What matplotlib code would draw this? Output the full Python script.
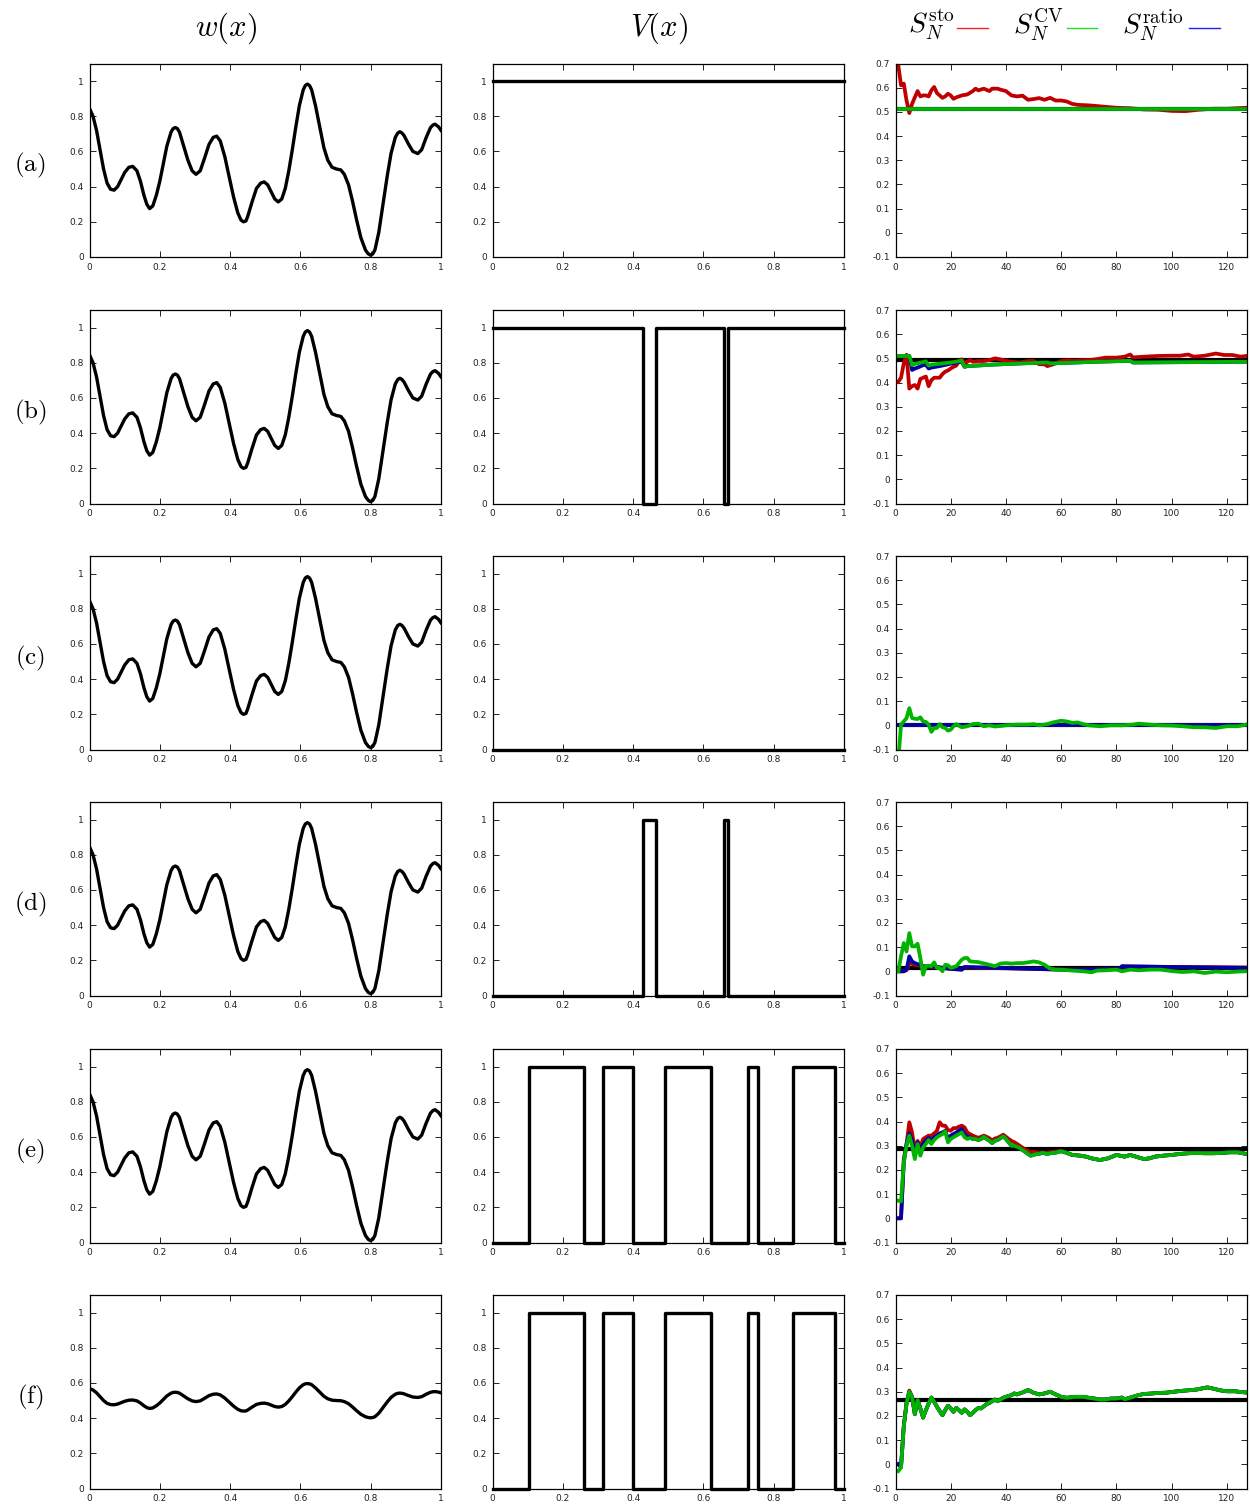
import numpy as np, matplotlib
matplotlib.use('Agg')
import matplotlib.pyplot as plt
from matplotlib.lines import Line2D
from matplotlib.ticker import FuncFormatter

RED = '#c00000'; GREEN = '#00b400'; BLUE = '#0000a8'; BLACK = 'black'
plt.rcParams.update({'mathtext.fontset': 'cm', 'font.family': 'DejaVu Sans', 'font.size': 6.5})

# ---- w(x) ----
x_w = [0.000, 0.010, 0.020, 0.030, 0.040, 0.050, 0.060, 0.070, 0.080, 0.090, 0.100, 0.112, 0.123,
       0.135, 0.145, 0.155, 0.163, 0.171, 0.180, 0.190, 0.200, 0.210, 0.220, 0.232, 0.238, 0.244, 0.250,
       0.256, 0.268, 0.280, 0.292, 0.303, 0.315, 0.327, 0.340, 0.352, 0.362, 0.372, 0.385, 0.398, 0.410,
       0.422, 0.431, 0.438, 0.445, 0.450, 0.462, 0.475, 0.487, 0.497, 0.507, 0.517, 0.527, 0.537, 0.547,
       0.557, 0.567, 0.577, 0.587, 0.597, 0.608, 0.614, 0.620, 0.626, 0.632, 0.643, 0.655, 0.667, 0.678,
       0.690, 0.703, 0.715, 0.725, 0.737, 0.748, 0.760, 0.772, 0.785, 0.793, 0.800, 0.806, 0.812, 0.823,
       0.835, 0.847, 0.858, 0.870, 0.877, 0.883, 0.889, 0.895, 0.908, 0.920, 0.934, 0.945, 0.958, 0.970,
       0.977, 0.983, 0.993, 1.000]
w_vals = [0.845, 0.80, 0.72, 0.61, 0.50, 0.42, 0.385, 0.38, 0.40, 0.44, 0.48, 0.51, 0.515,
          0.49, 0.43, 0.35, 0.30, 0.275, 0.29, 0.35, 0.43, 0.53, 0.63, 0.71, 0.73, 0.736, 0.73,
          0.71, 0.63, 0.55, 0.49, 0.47, 0.49, 0.56, 0.64, 0.68, 0.687, 0.66, 0.57, 0.45, 0.34,
          0.25, 0.21, 0.20, 0.205, 0.23, 0.31, 0.39, 0.42, 0.427, 0.41, 0.37, 0.33, 0.313, 0.33,
          0.39, 0.49, 0.61, 0.74, 0.86, 0.95, 0.975, 0.983, 0.975, 0.95, 0.86, 0.74, 0.62, 0.55,
          0.51, 0.50, 0.495, 0.47, 0.41, 0.32, 0.21, 0.11, 0.04, 0.018, 0.01, 0.018, 0.04, 0.14,
          0.30, 0.46, 0.59, 0.68, 0.705, 0.712, 0.705, 0.69, 0.64, 0.60, 0.588, 0.61, 0.68, 0.735,
          0.75, 0.755, 0.74, 0.72]
# row (f) uses the same profile squeezed towards 0.5
w_flat = 0.5 + 0.2 * (np.array(w_vals) - 0.5)

# ---- V(x): step edges and levels ----
V_edges = {
    'a': [0, 1], 'c': [0, 1],
    'b': [0, 0.428, 0.465, 0.658, 0.670, 1],
    'd': [0, 0.428, 0.465, 0.658, 0.670, 1],
    'e': [0, 0.105, 0.26, 0.315, 0.40, 0.49, 0.623, 0.727, 0.754, 0.855, 0.973, 1],
}
V_edges['f'] = V_edges['e']
V_levels = {
    'a': [1], 'c': [0],
    'b': [1, 0, 1, 0, 1], 'd': [0, 1, 0, 1, 0],
    'e': [0, 1, 0, 1, 0, 1, 0, 1, 0, 1, 0],
    'f': [0, 1, 0, 1, 0, 1, 0, 1, 0, 1, 0],
}

# ---- estimators vs N ----
exact = {'a': 0.51, 'b': 0.493, 'c': 0.0, 'd': 0.015, 'e': 0.286, 'f': 0.264}

Na_sto = [1, 2, 3, 4, 5, 6, 7, 8, 9, 10, 11, 12, 13, 14, 15, 16, 17, 18, 19, 20, 21, 22, 24, 26, 28, 29, 30, 32,
          34, 35, 37, 38, 40, 42, 44, 46, 48, 50, 52, 54, 56, 58, 60, 62, 64, 66, 70, 75, 80, 85, 90, 95, 100,
          105, 110, 115, 120, 127]
Sa_sto = [0.693, 0.61, 0.617, 0.547, 0.495, 0.533, 0.56, 0.586, 0.564, 0.568, 0.568, 0.564, 0.589, 0.603, 0.578,
          0.568, 0.558, 0.564, 0.575, 0.568, 0.554, 0.56, 0.568, 0.572, 0.586, 0.596, 0.589, 0.596, 0.586, 0.596,
          0.596, 0.592, 0.586, 0.568, 0.564, 0.567, 0.55, 0.553, 0.557, 0.55, 0.558, 0.547, 0.547, 0.543, 0.533,
          0.529, 0.527, 0.522, 0.517, 0.515, 0.51, 0.509, 0.504, 0.503, 0.509, 0.513, 0.513, 0.517]
Na_cv = [1, 127]; Sa_cv = [0.51, 0.51]
Na_ratio = [1, 127]; Sa_ratio = [0.51, 0.51]

Nb_sto = [1, 2, 3, 4, 5, 6, 7, 8, 9, 10, 11, 12, 13, 14, 15, 16, 17, 18, 19, 20, 21, 22, 23, 24, 25, 26, 27, 28,
          30, 32, 34, 36, 38, 40, 42, 45, 48, 50, 52, 54, 55, 57, 60, 62, 65, 68, 70, 73, 76, 80, 83, 85, 86, 90,
          95, 100, 103, 106, 108, 112, 116, 119, 122, 125, 127]
Sb_sto = [0.403, 0.42, 0.48, 0.515, 0.375, 0.385, 0.39, 0.375, 0.415, 0.42, 0.425, 0.385, 0.41, 0.42, 0.42, 0.42,
          0.435, 0.445, 0.45, 0.458, 0.465, 0.47, 0.49, 0.496, 0.476, 0.486, 0.493, 0.486,
          0.489, 0.489, 0.493, 0.5, 0.496, 0.489, 0.486, 0.483, 0.489, 0.49, 0.476, 0.475, 0.468, 0.475, 0.489,
          0.492, 0.49, 0.493, 0.493, 0.497, 0.503, 0.503, 0.507, 0.516, 0.504, 0.507, 0.51, 0.511, 0.511, 0.516,
          0.507, 0.511, 0.52, 0.514, 0.514, 0.507, 0.51]
Nb_cv = [1, 5, 6, 7, 8, 10, 11, 12, 13, 16, 20, 24, 25, 26, 35, 45, 55, 56, 70, 85, 86, 127]
Sb_cv = [0.51, 0.51, 0.472, 0.477, 0.48, 0.485, 0.488, 0.47, 0.474, 0.478, 0.483, 0.49, 0.465, 0.468, 0.474,
         0.479, 0.483, 0.479, 0.485, 0.49, 0.483, 0.486]
Nb_ratio = [1, 5, 6, 7, 8, 10, 11, 12, 13, 16, 20, 24, 25, 26, 35, 45, 55, 56, 70, 85, 86, 127]
Sb_ratio = [0.51, 0.51, 0.452, 0.458, 0.462, 0.472, 0.474, 0.458, 0.462, 0.468, 0.478, 0.486, 0.465, 0.468,
            0.474, 0.479, 0.483, 0.479, 0.485, 0.49, 0.483, 0.486]

Nc_sto = [1, 127]; Sc_sto = [0.0, 0.0]
Nc_ratio = [1, 127]; Sc_ratio = [0.0, 0.0]
Nc_cv = [1, 2, 3, 4, 5, 6, 7, 8, 9, 10, 11, 12, 13, 14, 15, 16, 17, 18, 19, 20, 21, 22, 24, 26, 28, 30, 32, 34,
         36, 38, 40, 44, 48, 50, 52, 55, 57, 60, 62, 64, 66, 68, 70, 74, 78, 82, 86, 88, 92, 96, 100, 104, 108,
         112, 116, 120, 124, 127]
Sc_cv = [-0.15, 0.003, 0.016, 0.03, 0.071, 0.03, 0.027, 0.026, 0.033, 0.016, 0.014, 0.003, -0.027, -0.011,
         -0.011, 0.005, -0.008, -0.011, -0.022, -0.018, -0.004, 0.005,
         -0.008, -0.004, 0.005, 0.007, -0.004, 0.0, -0.005, -0.003, 0.0,
         0.003, 0.003, 0.005, 0.0, 0.005, 0.012, 0.019, 0.016, 0.01, 0.012, 0.005, 0.0,
         -0.004, 0.0, 0.0, 0.003, 0.007, 0.003, 0.0, -0.001, -0.004, -0.008, -0.008, -0.011, -0.004, -0.004, 0.003]

Nd_sto = [1, 2, 3, 4, 5, 6, 7, 8, 10, 15, 20, 24, 25, 50, 60, 70, 81, 82, 100, 127]
Sd_sto = [0.0, 0.0, 0.0, 0.005, 0.035, 0.03, 0.027, 0.025, 0.02, 0.016, 0.01, 0.007, 0.016, 0.01, 0.007, 0.007,
          0.01, 0.02, 0.018, 0.016]
Nd_ratio = [1, 2, 3, 4, 5, 6, 7, 8, 9, 10, 15, 20, 24, 25, 50, 60, 70, 81, 82, 100, 127]
Sd_ratio = [0.0, 0.0, 0.0, 0.007, 0.062, 0.041, 0.034, 0.03, 0.027, 0.021, 0.018, 0.01, 0.007, 0.018, 0.01,
            0.007, 0.007, 0.01, 0.021, 0.018, 0.014]
Nd_cv = [1, 2, 3, 4, 5, 6, 7, 8, 9, 10, 11, 12, 13, 14, 15, 16, 17, 18, 19, 20,
         22, 24, 25, 26, 27, 30, 33, 36, 38, 40, 42, 44, 46, 48, 50, 52, 54, 56, 58, 60, 64, 68, 71, 73, 76, 80,
         82, 85, 88, 92, 96, 100, 104, 108, 112, 116, 120, 124, 127]
Sd_cv = [0.0, 0.062, 0.117, 0.082, 0.158, 0.103, 0.103, 0.114, 0.055, -0.014, 0.023, 0.023, 0.021, 0.037, 0.014,
         0.014, 0.0, 0.027, 0.025, 0.014,
         0.021, 0.048, 0.055, 0.055, 0.041, 0.038, 0.03, 0.021, 0.032, 0.034, 0.032, 0.034, 0.034, 0.037, 0.041,
         0.037, 0.027, 0.011, 0.007, 0.007, 0.003, 0.0, -0.004, 0.003, 0.004, 0.007, 0.0, 0.007, 0.004, 0.007,
         0.007, 0.001, -0.003, 0.0, -0.007, -0.001, -0.004, -0.001, 0.0]

# row (e): the three estimators separate early, then share one tail
Ne_tail = [62, 64, 67, 69, 71, 74, 77, 80, 83, 85, 87, 90, 92, 94, 97, 100, 103, 106, 109, 112, 115, 118, 121,
           124, 127]
Se_tail = [0.271, 0.262, 0.259, 0.255, 0.248, 0.241, 0.248, 0.262, 0.255, 0.262, 0.255, 0.245, 0.248, 0.255,
           0.259, 0.262, 0.266, 0.269, 0.27, 0.269, 0.269, 0.27, 0.273, 0.273, 0.266]
Ne_cv_head = list(range(1, 61))
Se_cv_head = [0.073, 0.070, 0.231, 0.300, 0.342, 0.300, 0.245, 0.307, 0.259, 0.293, 0.307, 0.324, 0.307, 0.324,
              0.335, 0.342, 0.348, 0.360, 0.314, 0.328, 0.335, 0.342, 0.348, 0.355, 0.335, 0.328, 0.332, 0.328,
              0.328, 0.324, 0.328, 0.337, 0.328, 0.321, 0.311, 0.321, 0.324, 0.331, 0.339, 0.328, 0.314, 0.300,
              0.300, 0.296, 0.291, 0.282, 0.275, 0.266, 0.259, 0.262, 0.266, 0.266, 0.271, 0.269, 0.266, 0.269,
              0.271, 0.271, 0.275, 0.277]
Ne_sto_head = list(range(1, 51)) + [52, 55, 58, 60]
Se_sto_head = [0.0, 0.0, 0.245, 0.307, 0.397, 0.355, 0.28, 0.32, 0.293, 0.328, 0.335, 0.342, 0.342, 0.351, 0.362,
               0.397, 0.383, 0.383, 0.365, 0.362, 0.373, 0.373, 0.379, 0.383, 0.376, 0.355, 0.348, 0.342, 0.337,
               0.333, 0.337, 0.342, 0.337, 0.331, 0.322, 0.33, 0.333, 0.339, 0.346, 0.337, 0.328, 0.32, 0.315,
               0.308, 0.3, 0.292, 0.285, 0.279, 0.272, 0.275, 0.272, 0.272, 0.276, 0.28]
Ne_ratio_head = list(range(1, 28))
Se_ratio_head = [0.0, 0.0, 0.231, 0.307, 0.351, 0.321, 0.259, 0.314, 0.279, 0.307, 0.321, 0.332, 0.324, 0.335,
                 0.342, 0.351, 0.355, 0.362, 0.328, 0.342, 0.348, 0.355, 0.362, 0.369, 0.348, 0.337, 0.335]

Ne_cv = Ne_cv_head + Ne_tail; Se_cv = Se_cv_head + Se_tail
Ne_sto = Ne_sto_head + Ne_tail; Se_sto = Se_sto_head + Se_tail
Ne_ratio = Ne_ratio_head + Ne_cv[27:]; Se_ratio = Se_ratio_head + Se_cv[27:]

# row (f): all three nearly coincide after the first few samples
Nf_tail = [6, 7, 8, 9, 10, 11, 12, 13, 14, 15, 16, 17, 18, 19, 20, 21, 22, 23, 24, 25, 26, 27, 28, 29, 30, 31,
           32, 33, 34, 35, 36, 37, 38, 39, 40, 42, 43, 44, 46, 48, 50, 52, 54, 56, 58, 60, 62, 65, 68, 70, 72,
           74, 76, 78, 80, 82, 83, 86, 88, 90, 92, 95, 98, 100, 103, 106, 109, 112, 113, 115, 118, 120, 123,
           125, 127]
Sf_tail = [0.279, 0.207, 0.265, 0.231, 0.193, 0.224, 0.251, 0.276, 0.258, 0.238, 0.22, 0.203, 0.224, 0.242,
           0.231, 0.217, 0.233, 0.224, 0.213, 0.227, 0.217, 0.203, 0.213, 0.224, 0.233, 0.231, 0.24, 0.249,
           0.254, 0.261, 0.268, 0.261, 0.268, 0.275, 0.279, 0.286, 0.293, 0.289, 0.297, 0.307, 0.296, 0.289,
           0.293, 0.30, 0.289, 0.279, 0.275, 0.279, 0.279, 0.275, 0.272, 0.268, 0.268, 0.272, 0.272, 0.276,
           0.269, 0.279, 0.286, 0.291, 0.292, 0.295, 0.296, 0.299, 0.303, 0.306, 0.309, 0.316, 0.318, 0.313,
           0.305, 0.302, 0.302, 0.299, 0.297]
Nf_cv = [1, 2, 3, 4, 5] + Nf_tail; Sf_cv = [-0.028, -0.014, 0.155, 0.251, 0.30] + Sf_tail
Nf_sto = [1, 2, 3, 4, 5] + Nf_tail; Sf_sto = [0.0, -0.01, 0.16, 0.255, 0.305] + Sf_tail
Nf_ratio = [1, 2, 3, 4, 5] + Nf_tail; Sf_ratio = [0.0, -0.01, 0.158, 0.253, 0.30] + Sf_tail

series = {
    'a': (Na_sto, Sa_sto, Na_ratio, Sa_ratio, Na_cv, Sa_cv),
    'b': (Nb_sto, Sb_sto, Nb_ratio, Sb_ratio, Nb_cv, Sb_cv),
    'c': (Nc_sto, Sc_sto, Nc_ratio, Sc_ratio, Nc_cv, Sc_cv),
    'd': (Nd_sto, Sd_sto, Nd_ratio, Sd_ratio, Nd_cv, Sd_cv),
    'e': (Ne_sto, Se_sto, Ne_ratio, Se_ratio, Ne_cv, Se_cv),
    'f': (Nf_sto, Sf_sto, Nf_ratio, Sf_ratio, Nf_cv, Sf_cv),
}
rows = ['a', 'b', 'c', 'd', 'e', 'f']

# ---- layout (pixels of a 1250x1505 canvas) ----
W, H = 1250, 1505
ROW_TOP = [63.5, 310, 556, 802, 1049, 1295]
COL_LEFT = [89.5, 492.5, 895.5]
AW, AH = 351.5, 193.5
fig = plt.figure(figsize=(W / 100, H / 100), dpi=100)
fmt = FuncFormatter(lambda v, p: f'{v:g}')


def make_ax(col, row):
    ax = fig.add_axes([COL_LEFT[col] / W, 1 - (ROW_TOP[row] + AH) / H, AW / W, AH / H])
    ax.tick_params(direction='in', top=True, right=True, length=4.5, width=0.7, labelsize=6.5,
                   pad=4, colors='#222222')
    for s in ax.spines.values():
        s.set_linewidth(0.9)
    ax.xaxis.set_major_formatter(fmt); ax.yaxis.set_major_formatter(fmt)
    return ax


for r, key in enumerate(rows):
    # w(x)
    ax = make_ax(0, r)
    ax.plot(x_w, w_flat if key == 'f' else w_vals, color=BLACK, lw=2.4, solid_joinstyle='round')
    ax.set_xlim(0, 1); ax.set_ylim(0, 1.1)
    ax.set_xticks(np.arange(0, 1.01, 0.2)); ax.set_yticks(np.arange(0, 1.01, 0.2))

    # V(x)
    ax = make_ax(1, r)
    lv = V_levels[key]
    ax.step(V_edges[key], lv + [lv[-1]], where='post', color=BLACK, lw=2.4, clip_on=False)
    ax.set_xlim(0, 1); ax.set_ylim(0, 1.1)
    ax.set_xticks(np.arange(0, 1.01, 0.2)); ax.set_yticks(np.arange(0, 1.01, 0.2))

    # estimators
    ax = make_ax(2, r)
    n_sto, s_sto, n_rat, s_rat, n_cv, s_cv = series[key]
    ax.axhline(exact[key], xmin=0.008, color=BLACK, lw=3.0)
    ax.plot(n_sto, s_sto, color=RED, lw=2.7)
    ax.plot(n_rat, s_rat, color=BLUE, lw=2.7)
    ax.plot(n_cv, s_cv, color=GREEN, lw=2.7)
    ax.set_xlim(0, 127.3); ax.set_ylim(-0.1, 0.7)
    ax.set_xticks(np.arange(0, 121, 20)); ax.set_yticks(np.round(np.arange(-0.1, 0.71, 0.1), 1))

    fig.text(30 / W, 1 - (ROW_TOP[r] + 102) / H, r'$\mathrm{(' + key + ')}$', fontsize=18,
             ha='center', va='center')

# column headers
fig.text(226 / W, 1 - 28 / H, r'$w(x)$', fontsize=22, ha='center', va='center')
fig.text(659 / W, 1 - 28 / H, r'$V(x)$', fontsize=22, ha='center', va='center')
legend_items = [(r'$S_N^{\rm sto}$', 931, 957, 988, '#ff2020'),
                (r'$S_N^{\rm CV}$', 1038, 1067, 1097, '#20e020'),
                (r'$S_N^{\rm ratio}$', 1153, 1189, 1220, '#2020ff')]
for lab, xc, x0, x1, c in legend_items:
    fig.text(xc / W, 1 - 25 / H, lab, fontsize=20, ha='center', va='center')
    fig.add_artist(Line2D([x0 / W, x1 / W], [1 - 28 / H, 1 - 28 / H], color=c, lw=1.0))

fig.savefig('out.png', dpi=100)
